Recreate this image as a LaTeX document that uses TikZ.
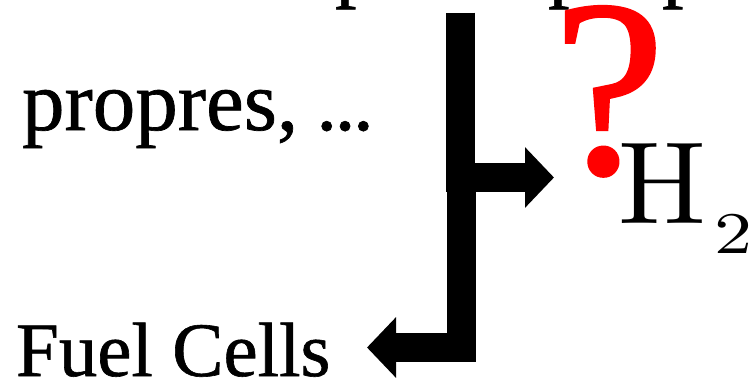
\documentclass[tikz,border=0pt]{standalone}
\usepackage{fontspec}
\usepackage{graphicx}
\newfontfamily\tnr[FakeBold=0.8]{Liberation Serif}
\newfontfamily\tnrq[FakeBold=1.0]{Liberation Serif}
\usetikzlibrary{arrows.meta}
\definecolor{qred}{RGB}{255,0,0}
\tikzset{
  txt/.style={inner sep=0pt, outer sep=0pt, anchor=base west, font=\tnr},
  bigarrow/.style={line width=29pt, line join=miter, line cap=butt,
    -{Triangle[length=29pt,width=59pt]}},
}
\begin{document}
\begin{tikzpicture}[x=1pt,y=-1pt]
\useasboundingbox (0,0) rectangle (754,384);
\fill[white] (0,0) rectangle (754,384);
\clip (0,0) rectangle (754,384);
% fragments of the line above (cut by the frame)
\node[txt] (p1) at (335,-9) {\fontsize{86}{86}\selectfont p};
\node[txt] (p2) at (548,-9) {\fontsize{86}{86}\selectfont p};
\node[txt] (p3) at (662,-9) {\fontsize{86}{86}\selectfont p};
% texts
\node[txt] (prop) at (22,130) {\fontsize{85}{85}\selectfont propres,\hspace{18pt}.\kern-3pt.\kern-3pt.};
\node[txt] (fc) at (16,376) {\fontsize{77}{77}\selectfont Fuel Cells};
\node[txt, font=\tnrq, text=qred] (q) at (553,173) {\fontsize{252}{252}\selectfont ?};
\node[inner sep=0pt, anchor=base west] (h2) at (618,223)
  {\scalebox{11.7}{\fontsize{10}{12}\selectfont H}\kern9pt\raisebox{-30pt}{\scalebox{7.6}[5.9]{\fontsize{10}{12}\selectfont 2}}};
% connectors
\coordinate (src1) at (460,12.7);
\coordinate (bend1) at (460,177.5);
\coordinate (tip1) at (554,177.5);
\coordinate (src2) at (461.7,192);
\coordinate (bend2) at (461.7,347.5);
\coordinate (tip2) at (367,347.5);
\draw[bigarrow] (src1) -- (bend1) -- (tip1);
\draw[bigarrow] (src2) -- (bend2) -- (tip2);
\end{tikzpicture}
\end{document}
